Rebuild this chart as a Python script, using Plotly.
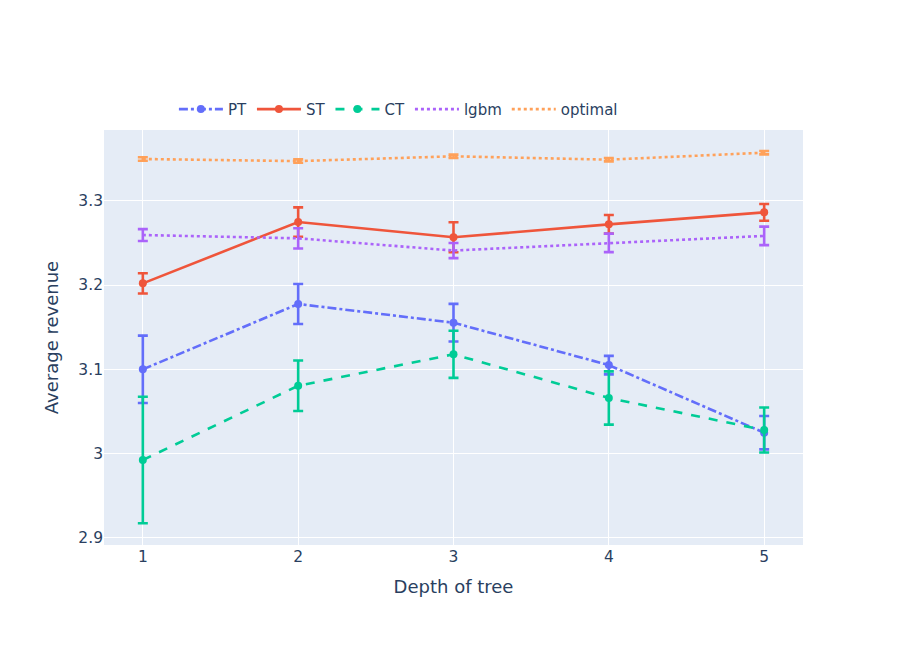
import plotly.graph_objects as go

depth = [1, 2, 3, 4, 5]

pt_mean = [3.100, 3.1775, 3.1553, 3.105, 3.0248]
pt_err = [0.040, 0.0237, 0.0223, 0.011, 0.0198]

st_mean = [3.2020, 3.2747, 3.2566, 3.272, 3.2862]
st_err = [0.012, 0.0174, 0.0178, 0.011, 0.010]

ct_mean = [2.9924, 3.0805, 3.1178, 3.066, 3.028]
ct_err = [0.075, 0.030, 0.028, 0.0316, 0.0267]

lgbm_mean = [3.2593, 3.2554, 3.2409, 3.250, 3.2583]
lgbm_err = [0.007, 0.012, 0.009, 0.011, 0.011]

opt_mean = [3.3495, 3.347, 3.3527, 3.3487, 3.357]
opt_err = [0.002, 0.002, 0.002, 0.002, 0.002]

series = [
    ("PT", pt_mean, pt_err, "#636efa", "dashdot", "lines+markers"),
    ("ST", st_mean, st_err, "#EF553B", "solid", "lines+markers"),
    ("CT", ct_mean, ct_err, "#00cc96", "dash", "lines+markers"),
    ("lgbm", lgbm_mean, lgbm_err, "#ab63fa", "dot", "lines"),
    ("optimal", opt_mean, opt_err, "#FFA15A", "dot", "lines"),
]

fig = go.Figure()
for name, m, e, c, dash, mode in series:
    fig.add_trace(go.Scatter(
        x=depth, y=m, name=name, mode=mode,
        line=dict(color=c, dash=dash, width=2.6),
        marker=dict(color=c, size=8),
        error_y=dict(type="data", array=e, visible=True, color=c, thickness=2.6, width=5),
    ))

fig.update_layout(
    width=913, height=655,
    template="plotly",
    margin=dict(l=96, r=118, t=122, b=118),
    font=dict(family="DejaVu Sans", size=15.5, color="#2a3f5f"),
    legend=dict(orientation="h", x=0.1, y=1.01, xanchor="left", yanchor="bottom",
                itemwidth=44, font=dict(size=15)),
    xaxis=dict(title=dict(text="Depth of tree", font=dict(size=18)),
               range=[0.75, 5.25], tickvals=depth),
    yaxis=dict(title=dict(text="Average revenue", font=dict(size=18)),
               range=[2.8916, 3.3839], tickvals=[2.9, 3.0, 3.1, 3.2, 3.3],
               ticktext=["2.9", "3", "3.1", "3.2", "3.3"]),
)

fig.write_html("out.html")
